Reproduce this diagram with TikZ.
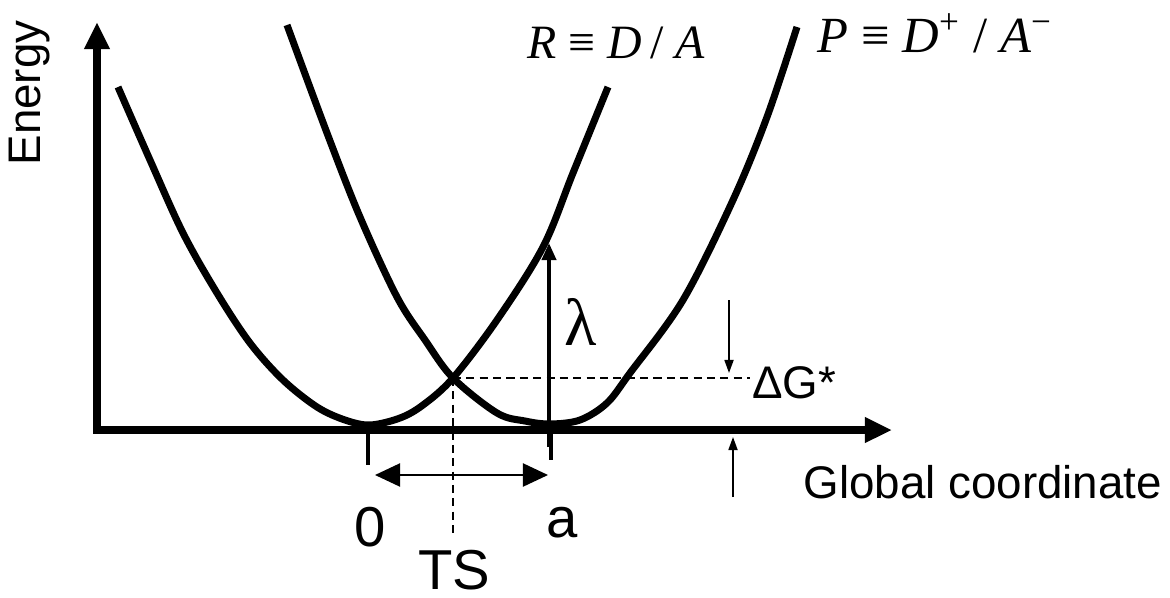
\documentclass[tikz,border=0pt]{standalone}
\usepackage{fontspec}
\setmainfont{Liberation Serif}
\setsansfont{Liberation Sans}
\usetikzlibrary{arrows.meta}

\begin{document}
\begin{tikzpicture}[
  x=0.01cm, y=-0.01cm,
  every node/.style={inner sep=0pt, font=\sffamily},
  axis/.style={line width=2.3pt, line join=miter, {Triangle[length=0.27cm, width=0.24cm]}-{Triangle[length=0.27cm, width=0.24cm]}},
  curve/.style={line width=2pt, line join=round},
  tickmark/.style={line width=1.4pt},
  span/.style={line width=0.6pt, {Triangle[length=0.25cm, width=0.23cm]}-{Triangle[length=0.25cm, width=0.23cm]}},
  guide/.style={line width=0.45pt, dash pattern=on 2.3pt off 1.5pt},
  gap/.style={line width=0.5pt, -{Triangle[length=0.13cm, width=0.09cm]}},
  reorg/.style={line width=1.1pt, -{Triangle[length=0.17cm, width=0.14cm]}},
  biglabel/.style={font=\sffamily\fontsize{16}{16}\selectfont},
  axislabel/.style={font=\sffamily\fontsize{13}{13}\selectfont},
  state/.style={font=\rmfamily\fontsize{13.6}{13.6}\selectfont}
]
\useasboundingbox (0,0) rectangle (1170,597);

% --- KEY POINTS ---
\coordinate (ytip) at (97,22);
\coordinate (origin) at (97,430);
\coordinate (xtip) at (892,430);
\coordinate (ts) at (453,378);
\coordinate (lamfoot) at (549,447);
\coordinate (lamtip) at (549,243);

% --- PARABOLAS ---
\draw[curve] plot[smooth, tension=0.55] coordinates {(118,87) (150,160) (183,233) (217,293) (250,343) (283,380) (317,407) (345,420) (370,425) (400,418) (423,405) (453,378) (497,320) (543,247) (573,173) (608,87)};
\draw[curve] plot[smooth, tension=0.55] coordinates {(287,25) (327,133) (360,217) (397,297) (425,340) (453,378) (497,413) (525,421) (550,424) (580,420) (607,403) (630,373) (683,300) (733,200) (767,117) (797,27)};

% --- AXES ---
\draw[axis] (ytip) -- (origin) -- (xtip);
\node[axislabel, rotate=90, anchor=center] (energy) at (30,93) {Energy};
\node[axislabel, anchor=base west] (global) at (803,498) {Global coordinate};

% --- TICKS AND DISTANCE ---
\draw[tickmark] (368,430) -- (368,465);
\draw[tickmark] (551,430) -- (551,460);
\coordinate (spanL) at (375,475);
\coordinate (spanR) at (548,475);
\draw[span] (spanL) -- (spanR);
\node[biglabel] (zero) at (370,527) {0};
\node[biglabel] (apos) at (562,523) {a};

% --- TRANSITION STATE ---
\coordinate (tsfoot) at (453,533);
\coordinate (dgend) at (750,378);
\draw[guide] (ts) -- (tsfoot);
\draw[guide] (ts) -- (dgend);
\node[biglabel] (tslabel) at (454,570) {TS};

% --- REORGANISATION ENERGY ---
\draw[reorg] (lamfoot) -- (lamtip);
\node[font=\fontsize{19}{19}\selectfont] (lambda) at (581,322) {λ};

% --- ACTIVATION GAP ---
\coordinate (gaptop) at (729,300);
\coordinate (gapbot) at (733,497);
\draw[gap] (gaptop) -- (729,373);
\draw[gap] (gapbot) -- (733,437);
\node[axislabel] (dG) at (794,383) {ΔG*};

% --- STATE LABELS ---
\node[state, anchor=base west] (Rlabel) at (527,58) {\textit{R} ≡ \textit{D}\,/ \textit{A}};
\node[state, anchor=base west, font=\rmfamily\fontsize{14.4}{14.4}\selectfont] (Plabel) at (817,52) {\textit{P} ≡ \textit{D}\textsuperscript{+} / \textit{A}\textsuperscript{−}};
\end{tikzpicture}
\end{document}
